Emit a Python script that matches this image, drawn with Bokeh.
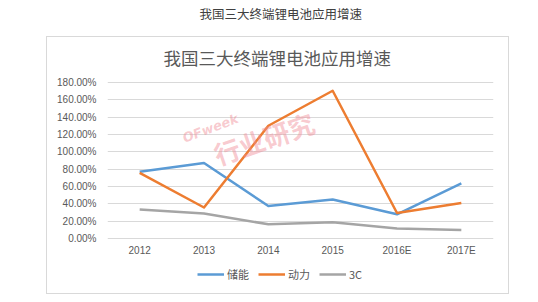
from bokeh.plotting import figure
from bokeh.models import (FactorRange, Range1d, Label, Legend, LegendItem,
                          NumeralTickFormatter, FixedTicker, InlineStyleSheet)
from bokeh.embed import file_html
from bokeh.resources import INLINE

# ---- data ----
years = ["2012", "2013", "2014", "2015", "2016E", "2017E"]
storage = [0.77, 0.87, 0.376, 0.45, 0.28, 0.635]      # 储能
power = [0.757, 0.358, 1.30, 1.703, 0.295, 0.41]      # 动力
consumer = [0.335, 0.288, 0.165, 0.188, 0.115, 0.10]  # 3C
series_names = ["储能", "动力", "3C"]
y_ticks = [0, 0.2, 0.4, 0.6, 0.8, 1.0, 1.2, 1.4, 1.6, 1.8]
outer_title = "我国三大终端锂电池应用增速"
inner_title = "我国三大终端锂电池应用增速"

COLORS = ["#5b9bd5", "#ed7d31", "#a5a5a5"]
NUM_FONT = "Liberation Sans"
CJK_FONT = "Noto Sans CJK SC"

box_css = InlineStyleSheet(css="""
:host { position: relative; }
:host::after {
  content: ""; position: absolute; left: 46px; top: 36px;
  width: 461px; height: 256px; border: 1px solid #d9d9d9;
  pointer-events: none; box-sizing: content-box;
}
""")

# frame spans y 0..284 px (titles and legend live inside it); 0% sits at ~238 px
p = figure(width=538, height=302, output_backend="svg", toolbar_location=None,
           x_range=FactorRange(*years, range_padding=0),
           y_range=Range1d(-0.529, 2.743),
           min_border_left=107, min_border_right=45,
           min_border_top=0, min_border_bottom=18,
           title=None, stylesheets=[box_css])
p.x_range.factor_padding = 0
p.background_fill_color = "white"
p.border_fill_color = "white"
p.outline_line_color = None

# grid
p.xgrid.grid_line_color = None
p.ygrid.grid_line_color = "#d9d9d9"
p.ygrid.grid_line_width = 1

# axes
p.yaxis.ticker = FixedTicker(ticks=y_ticks)
p.yaxis.formatter = NumeralTickFormatter(format="0.00%")
for ax in (p.xaxis[0], p.yaxis[0]):
    ax.axis_line_color = None
    ax.major_tick_line_color = None
    ax.minor_tick_line_color = None
    ax.major_tick_out = 0
    ax.major_tick_in = 0
    ax.minor_tick_out = 0
    ax.major_label_text_font = NUM_FONT
    ax.major_label_text_font_size = "10px"
    ax.major_label_text_color = "#595959"
p.yaxis.major_label_standoff = 11
p.xaxis.major_label_standoff = 6
p.xaxis.fixed_location = 0

# lines
renderers = []
for vals, col in zip([storage, power, consumer], COLORS):
    r = p.line(years, vals, line_color=col, line_width=2.5, line_join="round")
    renderers.append(r)

# legend
legend = Legend(items=[LegendItem(label=n, renderers=[r]) for n, r in zip(series_names, renderers)],
                orientation="horizontal", location=(90, 2),
                glyph_width=27, glyph_height=14, label_standoff=3, spacing=9,
                padding=0, margin=0, border_line_color=None,
                background_fill_alpha=0,
                label_text_font=CJK_FONT, label_text_font_size="11px",
                label_text_color="#595959", label_height=14)
p.add_layout(legend)

# titles
p.add_layout(Label(x=1.43, y=2.597, text=outer_title, text_font=CJK_FONT,
                   text_font_size="12.5px", text_color="#404040",
                   text_align="left", text_baseline="middle"))
p.add_layout(Label(x=0.87, y=2.09, text=inner_title, text_font=CJK_FONT,
                   text_font_size="17.5px", text_color="#595959",
                   text_align="left", text_baseline="middle"))

# watermark
p.add_layout(Label(x=2.43, y=1.16, text="行业研究", text_font=CJK_FONT,
                   text_font_size="26px", text_color="#f08a94", text_alpha=0.45,
                   angle=0.33, text_align="center", text_baseline="middle",
                   text_font_style="bold"))
p.add_layout(Label(x=1.60, y=1.27, text="OFweek", text_font="DejaVu Sans",
                   text_font_size="13px", text_color="#f08a94", text_alpha=0.45,
                   angle=0.36, text_align="center", text_baseline="middle",
                   text_font_style="bold italic"))

open("out.html", "w").write(file_html(p, INLINE))
